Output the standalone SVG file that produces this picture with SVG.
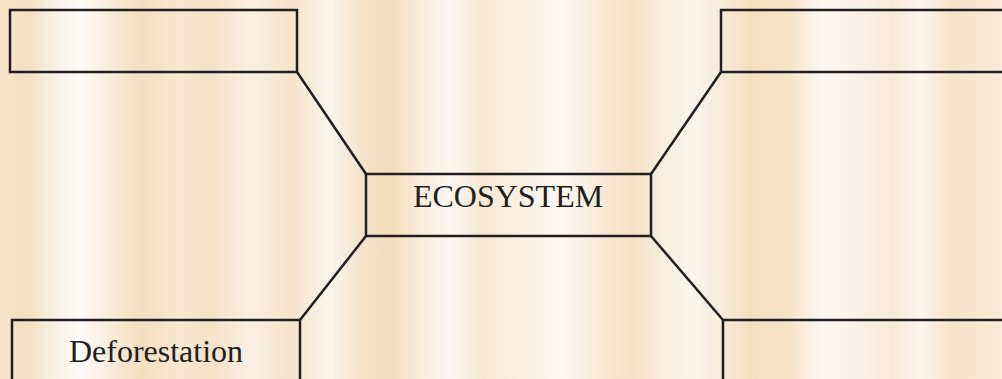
<svg xmlns="http://www.w3.org/2000/svg" width="1002" height="379" viewBox="0 0 1002 379">
<style>
.box{fill:none;stroke:#231f20;stroke-width:2.5}
.con{stroke:#231f20;stroke-width:2.5;fill:none}
.lbl{font-family:"Liberation Serif",serif;font-size:32px;fill:#231f20;text-anchor:middle}
</style>
<defs>
<linearGradient id="wood" x1="0" y1="0" x2="1002" y2="0" gradientUnits="userSpaceOnUse">
<stop offset="0" stop-color="#f6e4ca"/>
<stop offset="0.03" stop-color="#f4dfc2"/>
<stop offset="0.05" stop-color="#f9efe0"/>
<stop offset="0.08" stop-color="#fefcf8"/>
<stop offset="0.11" stop-color="#f9ecdb"/>
<stop offset="0.14" stop-color="#f4dec0"/>
<stop offset="0.18" stop-color="#f8e8d2"/>
<stop offset="0.21" stop-color="#f5e2c7"/>
<stop offset="0.25" stop-color="#faf0e3"/>
<stop offset="0.29" stop-color="#f6e4ca"/>
<stop offset="0.33" stop-color="#fbf5ec"/>
<stop offset="0.36" stop-color="#f5e3ca"/>
<stop offset="0.39" stop-color="#f3dcbc"/>
<stop offset="0.42" stop-color="#f9eddc"/>
<stop offset="0.45" stop-color="#fcf7f0"/>
<stop offset="0.48" stop-color="#f7e8d4"/>
<stop offset="0.52" stop-color="#faf0e3"/>
<stop offset="0.56" stop-color="#fcf8f2"/>
<stop offset="0.6" stop-color="#f8ead7"/>
<stop offset="0.63" stop-color="#f4e0c4"/>
<stop offset="0.66" stop-color="#f9eddd"/>
<stop offset="0.69" stop-color="#fbf5ec"/>
<stop offset="0.72" stop-color="#f8ebd9"/>
<stop offset="0.75" stop-color="#f5dfc1"/>
<stop offset="0.79" stop-color="#f7e5cb"/>
<stop offset="0.82" stop-color="#fcf8f1"/>
<stop offset="0.86" stop-color="#faf1e5"/>
<stop offset="0.89" stop-color="#f8ead7"/>
<stop offset="0.92" stop-color="#fbf6ee"/>
<stop offset="0.95" stop-color="#f6e3c8"/>
<stop offset="1" stop-color="#f9ecda"/>
</linearGradient>
</defs>
<rect x="0" y="0" width="1002" height="379" fill="url(#wood)"/>
<g id="connectors">
<line class="con" x1="297" y1="72" x2="366" y2="174"/>
<line class="con" x1="721" y1="72" x2="651" y2="174"/>
<line class="con" x1="366" y1="236" x2="300" y2="320"/>
<line class="con" x1="651" y1="236" x2="723" y2="320"/>
</g>
<g id="node-top-left"><rect class="box" x="10" y="10" width="287" height="62"/></g>
<g id="node-top-right"><rect class="box" x="721" y="10" width="290" height="62"/></g>
<g id="node-center"><rect class="box" x="366" y="174" width="285" height="62"/><text class="lbl" x="508" y="207">ECOSYSTEM</text></g>
<g id="node-bottom-left"><rect class="box" x="12" y="320" width="288" height="70"/><text class="lbl" x="156" y="362">Deforestation</text></g>
<g id="node-bottom-right"><rect class="box" x="723" y="320" width="290" height="70"/></g>
</svg>
